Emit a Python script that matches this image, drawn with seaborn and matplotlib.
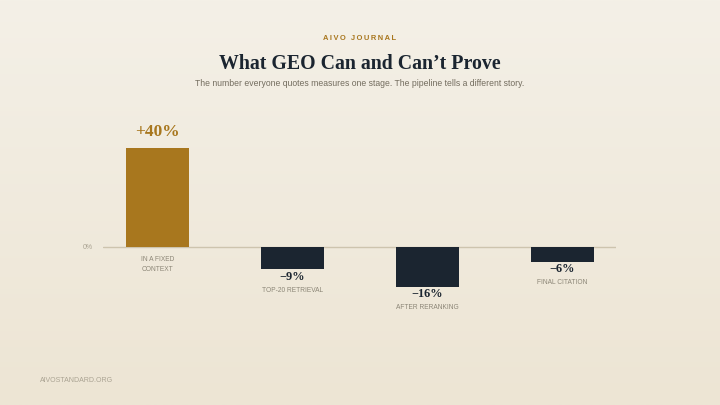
import numpy as np
import pandas as pd
import matplotlib.pyplot as plt
import seaborn as sns

# Chart values
stages = ['IN A FIXED\nCONTEXT', 'TOP-20 RETRIEVAL', 'AFTER RERANKING', 'FINAL CITATION']
change_pct = [40, -9, -16, -6]
value_labels = ['+40%', '\u22129%', '\u221216%', '\u22126%']

GOLD = '#a8771e'
NAVY = '#1b2530'
MUTED = '#8c8677'

df = pd.DataFrame({'stage': stages, 'change': change_pct})
df['sign'] = np.where(df['change'] > 0, 'up', 'down')

sns.set_theme(style='white')
plt.rcParams['font.family'] = ['Liberation Sans', 'DejaVu Sans']

fig = plt.figure(figsize=(7.2, 4.05), dpi=100)

# soft vertical background gradient
bg = fig.add_axes([0, 0, 1, 1], zorder=-10)
grad = np.linspace(0, 1, 256).reshape(-1, 1)
bg.imshow(grad, aspect='auto', extent=[0, 1, 0, 1], origin='upper',
          cmap=sns.blend_palette(['#f4f0e7', '#ede5d4'], as_cmap=True))
bg.axis('off')

ax = fig.add_axes([103 / 720, (405 - 320) / 405, 513 / 720, 212 / 405])
ax.patch.set_alpha(0)
sns.barplot(data=df, x='stage', y='change', hue='sign',
            palette={'up': GOLD, 'down': NAVY}, width=0.467,
            legend=False, saturation=1, linewidth=0, edgecolor='none', ax=ax)
ax.set_xlim(-0.404, 3.396)
ax.set_ylim(-29.5, 56.2)
ax.axhline(0, color='#cdc4ae', lw=1, zorder=0)
for s in ax.spines.values():
    s.set_visible(False)
ax.set_xticks([])
ax.set_yticks([])
ax.set_xlabel('')
ax.set_ylabel('')
ax.text(-0.478, 0, '0%', ha='right', va='center', fontsize=5, color='#aaa392')

for i, (v, lab, st) in enumerate(zip(change_pct, value_labels, stages)):
    if v > 0:
        ax.annotate(lab, (i, v), xytext=(0, 6), textcoords='offset points',
                    ha='center', va='bottom', fontsize=12.5, fontweight='bold',
                    color=GOLD, family=['Liberation Serif', 'DejaVu Serif'])
        ax.annotate(st, (i, 0), xytext=(0, -6.5), textcoords='offset points',
                    ha='center', va='top', fontsize=4.8, color=MUTED,
                    linespacing=1.6)
    else:
        ax.annotate(lab, (i, v), xytext=(0, -1), textcoords='offset points',
                    ha='center', va='top', fontsize=8.8, fontweight='bold',
                    color=NAVY, family=['Liberation Serif', 'DejaVu Serif'])
        ax.annotate(st, (i, v), xytext=(0, -12.5), textcoords='offset points',
                    ha='center', va='top', fontsize=4.8, color=MUTED)

fig.text(0.5, 1 - 38 / 405, '\u2009'.join('AIVO JOURNAL'), ha='center', va='center',
         fontsize=5.4, fontweight='bold', color=GOLD)
fig.text(0.5, 1 - 64 / 405, 'What GEO Can and Can\u2019t Prove', ha='center', va='center',
         fontsize=14.3, fontweight='bold', color=NAVY,
         family=['Liberation Serif', 'DejaVu Serif'])
fig.text(0.5, 1 - 84 / 405,
         'The number everyone quotes measures one stage. The pipeline tells a different story.',
         ha='center', va='center', fontsize=6.2, color='#736d5e')
fig.text(40 / 720, 1 - 380 / 405, 'AIVOSTANDARD.ORG', ha='left', va='center',
         fontsize=5, color='#aaa392')

fig.savefig('out.png', dpi=100)
